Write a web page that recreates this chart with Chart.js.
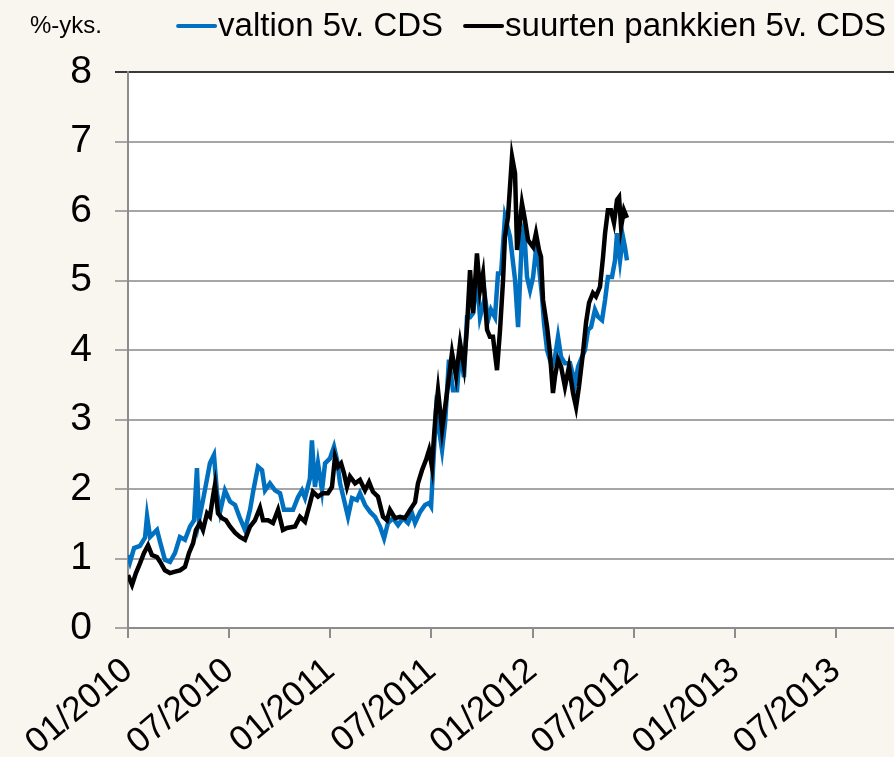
<!DOCTYPE html>
<html>
<head>
<meta charset="utf-8">
<script src="https://cdn.jsdelivr.net/npm/chart.js@4.4.1/dist/chart.umd.min.js"></script>
<style>
    body { margin: 0; background: #f9f5ef; }
    #wrap { position: relative; width: 894px; height: 757px; }
    #unit { position: absolute; left: 30px; top: 11px; font: 24px "Liberation Sans", Arial, sans-serif; color: #000; }
</style>
</head>
<body>
<div id="wrap">
    <canvas id="cdsChart" width="894" height="757"></canvas>
    <div id="unit">%-yks.</div>
</div>
<script>
// ============================================
// CDS chart: valtion vs. suurten pankkien 5v. CDS
// x = months since 01/2010
// ============================================

const xTickMonths = [0, 6, 12, 18, 24, 30, 36, 42];
const xTickLabels = ['01/2010', '07/2010', '01/2011', '07/2011', '01/2012', '07/2012', '01/2013', '07/2013'];
const yTicks = [0, 1, 2, 3, 4, 5, 6, 7, 8];

const seriesLabels = ['valtion 5v. CDS', 'suurten pankkien 5v. CDS'];

const valtionMonths = [0.00, 0.12, 0.36, 0.71, 1.01, 1.13, 1.31, 1.72, 1.90, 2.19, 2.49, 2.79, 3.08, 3.38, 3.68, 3.92,
    4.09, 4.21, 4.45, 4.69, 4.86, 5.10, 5.28, 5.46, 5.75, 6.05, 6.35, 6.64, 6.94, 7.24, 7.42, 7.71, 7.95, 8.13, 8.42,
    8.72, 9.02, 9.25, 9.49, 9.79, 10.08, 10.32, 10.50, 10.79, 10.91, 11.09, 11.27, 11.51, 11.69, 11.98, 12.22, 12.40,
    12.58, 12.75, 13.05, 13.29, 13.58, 13.76, 14.06, 14.36, 14.65, 14.95, 15.19, 15.42, 15.72, 16.02, 16.31, 16.61,
    16.85, 17.03, 17.33, 17.62, 17.86, 17.98, 18.09, 18.27, 18.45, 18.63, 18.81, 19.04, 19.28, 19.52, 19.70, 19.93,
    20.11, 20.29, 20.47, 20.70, 20.88, 21.18, 21.36, 21.53, 21.77, 21.95, 22.13, 22.36, 22.66, 22.96, 23.14, 23.37,
    23.49, 23.67, 23.85, 24.03, 24.20, 24.38, 24.56, 24.68, 24.86, 25.15, 25.33, 25.51, 25.69, 25.92, 26.22, 26.52,
    26.70, 26.93, 27.11, 27.29, 27.47, 27.70, 27.88, 28.12, 28.30, 28.47, 28.71, 28.89, 29.01, 29.19, 29.36, 29.48, 29.60];
const valtionValues = [1.05, 0.95, 1.15, 1.18, 1.30, 1.61, 1.31, 1.41, 1.24, 0.98, 0.95, 1.08, 1.31, 1.27, 1.46, 1.55,
    2.30, 1.55, 1.84, 2.15, 2.37, 2.49, 1.94, 1.67, 1.98, 1.82, 1.77, 1.58, 1.41, 1.70, 1.96, 2.32, 2.27, 1.98, 2.08,
    1.98, 1.94, 1.70, 1.70, 1.70, 1.88, 1.98, 1.87, 2.15, 2.70, 2.03, 2.37, 1.98, 2.37, 2.44, 2.61, 2.42,
    2.08, 1.91, 1.60, 1.87, 1.84, 1.94, 1.77, 1.67, 1.60, 1.46, 1.29, 1.51, 1.58, 1.48, 1.58, 1.51,
    1.65, 1.51, 1.67, 1.77, 1.80, 1.75, 2.27, 3.09, 2.85, 2.56, 2.95, 3.86, 3.42, 3.42, 4.00, 3.61,
    4.47, 4.47, 4.53, 5.05, 4.47, 4.76, 4.43, 4.58, 4.47, 5.10, 5.10, 5.91, 5.63, 5.01, 4.33, 5.63,
    5.77, 5.05, 4.86, 5.05, 5.44, 5.20, 4.77, 4.38, 4.00, 3.76, 3.90, 4.19, 3.90, 3.81, 3.81, 3.52,
    3.76, 3.90, 4.00, 4.29, 4.33, 4.58, 4.48, 4.43, 4.72, 5.05, 5.05, 5.29, 5.68, 5.29, 5.63, 5.48, 5.29];

const pankitMonths = [0.00, 0.24, 0.47, 0.71, 0.95, 1.19, 1.42, 1.72, 1.96, 2.19, 2.49, 2.79, 3.08, 3.38, 3.62, 3.86,
    4.03, 4.27, 4.45, 4.69, 4.86, 5.04, 5.16, 5.34, 5.58, 5.81, 6.05, 6.35, 6.64, 6.94, 7.24, 7.53, 7.83, 8.01, 8.31,
    8.60, 8.90, 9.19, 9.43, 9.91, 10.20, 10.50, 10.79, 10.97, 11.27, 11.57, 11.86, 12.10, 12.28, 12.46, 12.64, 12.81,
    12.99, 13.17, 13.47, 13.76, 14.06, 14.30, 14.53, 14.83, 15.13, 15.36, 15.54, 15.84, 16.14, 16.43, 16.73, 17.03,
    17.20, 17.44, 17.68, 17.86, 18.03, 18.15, 18.27, 18.39, 18.63, 18.92, 19.22, 19.46, 19.70, 19.93, 20.11, 20.29,
    20.47, 20.70, 20.88, 21.06, 21.30, 21.47, 21.65, 21.89, 22.07, 22.25, 22.36, 22.54, 22.78, 22.96, 23.08, 23.25,
    23.37, 23.55, 23.73, 24.03, 24.20, 24.38, 24.50, 24.62, 24.86, 25.03, 25.21, 25.33, 25.51, 25.69, 25.92, 26.16,
    26.40, 26.58, 26.75, 26.99, 27.17, 27.35, 27.58, 27.76, 28.00, 28.18, 28.30, 28.47, 28.65, 28.83, 29.01, 29.13,
    29.25, 29.42, 29.60];
const pankitValues = [0.76, 0.62, 0.79, 0.93, 1.08, 1.19, 1.05, 1.02, 0.93, 0.83, 0.79, 0.81, 0.83, 0.88, 1.08, 1.22,
    1.41, 1.51, 1.41, 1.65, 1.60, 1.89, 2.06, 1.65, 1.58, 1.55, 1.46, 1.37, 1.31, 1.27, 1.46, 1.55, 1.73, 1.55, 1.55,
    1.51, 1.70, 1.41, 1.44, 1.46, 1.60, 1.53, 1.79, 1.96, 1.89, 1.94, 1.94, 2.03, 2.46, 2.32, 2.37, 2.23,
    2.03, 2.18, 2.08, 2.13, 1.98, 2.10, 1.96, 1.89, 1.60, 1.55, 1.70, 1.58, 1.60, 1.58, 1.70, 1.81,
    2.08, 2.27, 2.42, 2.56, 2.32, 2.75, 3.14, 3.42, 2.85, 3.38, 3.96, 3.62, 4.10, 3.76, 4.33, 5.15,
    4.53, 5.39, 4.86, 5.10, 4.29, 4.19, 4.19, 3.71, 4.29, 5.01, 5.63, 5.91, 6.78, 6.54, 5.44, 5.83,
    6.11, 5.87, 5.58, 5.48, 5.68, 5.44, 5.34, 4.72, 4.33, 3.96, 3.38, 3.62, 3.86, 3.76, 3.47, 3.76,
    3.38, 3.18, 3.47, 3.96, 4.39, 4.68, 4.82, 4.77, 4.91, 5.34, 5.68, 6.01, 6.01, 5.83, 6.16, 6.20,
    5.77, 6.01, 5.90];

const FONT = '"Liberation Sans", Arial, sans-serif';

function toPoints(xs, ys) {
    return xs.map((x, i) => ({ x: x, y: ys[i] }));
}

// white plot area on beige page
const plotBackground = {
    id: 'plotBackground',
    beforeDraw(chart) {
        const { ctx, chartArea } = chart;
        ctx.save();
        ctx.fillStyle = '#ffffff';
        ctx.fillRect(chartArea.left, chartArea.top, chartArea.right - chartArea.left, chartArea.bottom - chartArea.top);
        ctx.restore();
    }
};

// legend in one row at top right: short line + label
const topLegend = {
    id: 'topLegend',
    afterDraw(chart) {
        const ctx = chart.ctx;
        const sets = chart.data.datasets;
        ctx.save();
        ctx.font = '33px ' + FONT;
        ctx.textBaseline = 'middle';
        ctx.textAlign = 'left';
        let x = 886;
        const y = 26;
        for (let i = sets.length - 1; i >= 0; i--) {
            const w = ctx.measureText(sets[i].label).width;
            x -= w;
            ctx.fillStyle = '#000';
            ctx.fillText(sets[i].label, x, y + 1);
            ctx.strokeStyle = sets[i].borderColor;
            ctx.lineWidth = 4;
            ctx.lineCap = 'round';
            ctx.beginPath();
            ctx.moveTo(x - 3, y);
            ctx.lineTo(x - 40, y);
            ctx.stroke();
            x -= 62;
        }
        ctx.restore();
    }
};

const ctx = document.getElementById('cdsChart').getContext('2d');
new Chart(ctx, {
    type: 'line',
    data: {
        datasets: [{
            label: seriesLabels[0],
            data: toPoints(valtionMonths, valtionValues),
            borderColor: '#0070c0',
            borderWidth: 4.5,
            pointRadius: 0,
            tension: 0,
            order: 1
        }, {
            label: seriesLabels[1],
            data: toPoints(pankitMonths, pankitValues),
            borderColor: '#000000',
            borderWidth: 4.5,
            pointRadius: 0,
            tension: 0,
            order: 0
        }]
    },
    options: {
        responsive: false,
        animation: false,
        layout: { padding: { top: 72, left: 0, right: 0, bottom: 0 } },
        plugins: {
            legend: { display: false },
            tooltip: { enabled: false }
        },
        scales: {
            x: {
                type: 'linear',
                min: 0,
                max: 45.44,
                afterBuildTicks: scale => { scale.ticks = xTickMonths.map(v => ({ value: v })); },
                afterFit: scale => { scale.height = 129; },
                grid: { drawOnChartArea: false, drawTicks: true, tickLength: 10, color: '#8c8c8c', lineWidth: 2 },
                border: { display: true, color: '#8c8c8c', width: 2 },
                ticks: {
                    autoSkip: false,
                    minRotation: 40,
                    maxRotation: 40,
                    padding: 12,
                    color: '#000',
                    font: { family: FONT, size: 35 },
                    callback: v => xTickLabels[xTickMonths.indexOf(v)]
                }
            },
            y: {
                min: 0,
                max: 8,
                afterBuildTicks: scale => { scale.ticks = yTicks.map(v => ({ value: v })); },
                afterFit: scale => { scale.width = 128; },
                grid: {
                    color: c => c.tick && c.tick.value === 8 ? '#3a3a3a' : '#a6a6a6',
                    lineWidth: 2,
                    tickLength: 13
                },
                border: { display: true, color: '#8c8c8c', width: 2 },
                ticks: {
                    padding: 23,
                    color: '#000',
                    font: { family: FONT, size: 39 }
                }
            }
        }
    },
    plugins: [plotBackground, topLegend]
});
</script>
</body>
</html>
